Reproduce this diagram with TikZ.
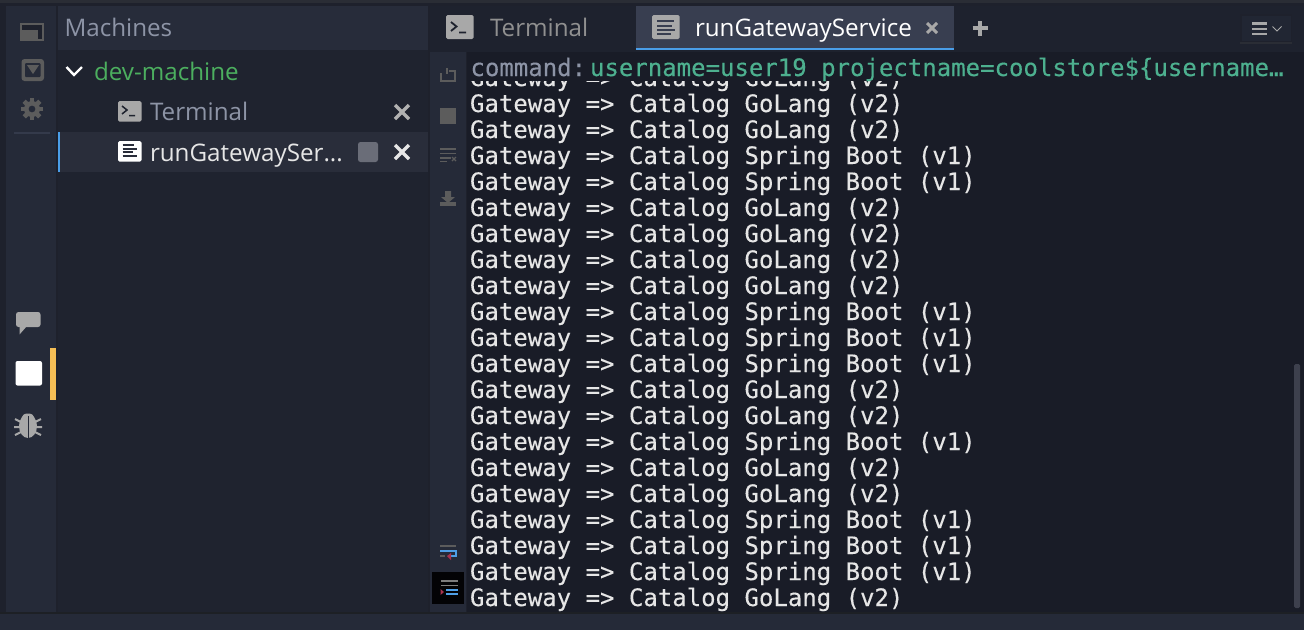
\documentclass[tikz,border=0pt]{standalone}
\usepackage{fontspec}
\setmainfont{Open Sans}
\newfontfamily\monof[FakeBold=0.25]{DejaVu Sans Mono}
\definecolor{cTop}{HTML}{2A2D35}
\definecolor{cStrip}{HTML}{1E212C}
\definecolor{cBar}{HTML}{252A38}
\definecolor{cPanel}{HTML}{1F232F}
\definecolor{cHead}{HTML}{272C3A}
\definecolor{cSel}{HTML}{292D3A}
\definecolor{cTabs}{HTML}{1E222E}
\definecolor{cTab}{HTML}{383E50}
\definecolor{cBlue}{HTML}{4A9EE8}
\definecolor{cOut}{HTML}{191C27}
\definecolor{cLine}{HTML}{E6E6E6}
\definecolor{cMuted}{HTML}{8D94A6}
\definecolor{cGreen}{HTML}{4CAF5F}
\definecolor{cTeal}{HTML}{4DB08F}
\definecolor{cIcon}{HTML}{A8A8A8}
\definecolor{cDim}{HTML}{5C5C5C}
\definecolor{cYellow}{HTML}{F5BE55}
\definecolor{cRed}{HTML}{A8324E}
\definecolor{cIconBlue}{HTML}{4F9FE6}
\definecolor{cStop}{HTML}{6A6D78}
\definecolor{cThumb}{HTML}{3D404D}
\definecolor{cRule}{HTML}{343A4B}
\definecolor{cBtn}{HTML}{212633}
\definecolor{cTabMuted}{HTML}{909090}
\tikzset{
 txt/.style={anchor=base west,inner sep=0pt,outer sep=0pt},
 uitext/.style={txt,font=\fontsize{24.2}{30}\selectfont},
 logline/.style={txt,text=cLine,font=\monof\fontsize{24}{26}\selectfont},
 xmark/.style={line width=3.4pt}
}
\newcommand{\gw}[2]{\node[logline] (l#1) at (470,#1) {Gateway => Catalog #2};}
\newcommand{\gv}[1]{\gw{#1}{GoLang (v2)}}
\newcommand{\gs}[1]{\gw{#1}{Spring Boot (v1)}}
\begin{document}
\begin{tikzpicture}[x=1pt,y=-1pt]
\useasboundingbox (0,0) rectangle (1304,630);
% backgrounds
\fill[cStrip] (0,0) rectangle (1304,630);
\fill[cTop] (0,0) rectangle (1304,3);
\fill[cBar] (6,6) rectangle (56,612);
\fill[cPanel] (58,6) rectangle (428,612);
\fill[cHead] (58,6) rectangle (428,50);
\fill[cSel] (58,132) rectangle (428,172);
\fill[cBlue] (58,132) rectangle (60,172);
\fill[cTabs] (430,6) rectangle (1304,52);
\fill[cTab] (636,6) rectangle (954,48);
\fill[cBlue] (636,48) rectangle (954,50);
\fill[cBar] (430,52) rectangle (466,612);
\fill[cOut] (467,52) rectangle (1304,612);
\fill[cBar] (0,614) rectangle (1304,630);
\fill[cTop!70!black] (0,612) rectangle (1304,614);
% left icons
\fill[cDim] (20,23) rectangle (44,41);
\fill[cStrip] (22,25) rectangle (42,30);
\fill[cStrip] (38,30) rectangle (42,39);
\fill[cDim,rounded corners=3pt] (21.5,59) rectangle (44,81);
\fill[cBar,rounded corners=1pt] (25,63) rectangle (40.5,77);
\fill[cDim] (27,65) -- (39,65) -- (33,74) -- cycle;
\fill[cDim,even odd rule] (32,109) circle (8pt) (32,109) circle (3.5pt);
\foreach \a in {0,45,...,315}{\fill[cDim,rotate around={\a:(32,109)}] (29.7,98) rectangle (34.3,103);}
\fill[cRule] (14,132) rectangle (50,134);
\fill[cIcon,rounded corners=2.5pt] (16,312) rectangle (40.5,327);
\fill[cIcon] (19.5,326) -- (27,326) -- (19.5,334.5) -- cycle;
\fill[white,rounded corners=2pt] (15.5,361) rectangle (42,385.5);
\fill[cYellow] (50,348) rectangle (56,400);
% bug
\fill[cIcon] (28,417) ellipse (6pt and 3.5pt);
\fill[cIcon] (28,426) ellipse (9pt and 12pt);
\draw[cBar,line width=1pt] (28,416) -- (28,438);
\draw[cIcon,line width=2pt] (15,419) -- (21,422) (41,419) -- (35,422) (14,427) -- (20,427) (42,427) -- (36,427) (15,435) -- (21,432) (41,435) -- (35,432);
% side panel texts
\node[uitext,text=cMuted] (machines) at (64.5,36) {Machines};
\draw[white,line width=2.4pt] (66.5,67) -- (74,75) -- (82,67);
\node[uitext,text=cGreen] (dev) at (94,80) {dev-machine};
\fill[cIcon,rounded corners=1.5pt] (118,101) rectangle (141.5,121.5);
\draw[cPanel,line width=1.5pt] (122,106) -- (127,110) -- (122,114) (129,115.5) -- (135,115.5);
\node[uitext,text=cMuted] (term) at (150,120) {Terminal};
\draw[cIcon!90!white,xmark] (395,105) -- (409,119) (409,105) -- (395,119);
\fill[white,rounded corners=1.5pt] (118,141) rectangle (141.5,161.5);
\foreach \y/\w in {145/134,148.5/137,152/133,155.5/137}{\draw[cSel,line width=2pt] (122.5,\y) -- (\w,\y);}
\node[uitext,text=cLine] (rgs) at (150,161) {runGatewaySer...};
\fill[cStop,rounded corners=2.5pt] (358,142) rectangle (378,162);
\draw[cLine,xmark] (395,145) -- (409,159) (409,145) -- (395,159);
% tabs
\fill[cIcon,rounded corners=1.5pt] (446,15) rectangle (473.5,39);
\draw[cTabs,line width=1.8pt] (451,22) -- (456.5,26.5) -- (451,31) (459,32.5) -- (466,32.5);
\node[uitext,text=cTabMuted] (tabt) at (490,36) {Terminal};
\fill[cIcon,rounded corners=1.5pt] (652,15) rectangle (679.5,39);
\foreach \y/\w in {21/674,25.5/672,30/675,34/671}{\draw[cTab,line width=2pt] (657,\y) -- (\w,\y);}
\node[uitext,text=white] (tabr) at (695,36) {runGatewayService};
\draw[cIcon,line width=3pt] (927,23) -- (937,33) (937,23) -- (927,33);
\draw[cIcon,line width=4pt] (980,21) -- (980,36) (972.5,28) -- (987.5,28);
% menu button
\fill[cStrip] (1240,14) rectangle (1292,44);
\fill[cBtn] (1241.5,16) rectangle (1290.5,41);
\fill[cTop] (1240,41.5) rectangle (1292,44);
\draw[cIcon,line width=2.2pt] (1252,23.5) -- (1267,23.5) (1252,29) -- (1267,29) (1252,34) -- (1267,34);
\draw[cIcon,line width=.9pt] (1272.5,26.5) -- (1277,31) -- (1281.5,26.5);
% toolbar icons
\draw[cDim,line width=1.6pt] (441,73) -- (441,81) -- (455,81) -- (455,71) -- (449,71) (447,68) -- (447,74);
\fill[cDim] (440,108) rectangle (456,124);
\draw[cDim,line width=1.5pt] (440,149) -- (456,149) (440,153.5) -- (456,153.5) (440,158) -- (451,158) (440,161.5) -- (447,161.5);
\draw[cDim,line width=1.1pt] (452,157) -- (456,161) (456,157) -- (452,161);
\fill[cDim] (445,191) rectangle (451,197) (441,197) -- (455,197) -- (448,203) -- cycle;
\fill[cDim] (440,202) rectangle (456,206);
\draw[cDim,line width=1.6pt] (440,546) -- (456,546);
\draw[cIconBlue,line width=1.6pt] (440,551) -- (456,551) -- (456,556) -- (450,556);
\fill[cRed] (447,556) -- (451,553) -- (451,560) -- cycle;
\draw[cDim,line width=1.6pt] (440,556) -- (445,556);
\fill[black!92!cBar] (432,572) rectangle (464,604);
\draw[cDim!80!white,line width=1.6pt] (441,581) -- (458,581) (441,585.5) -- (458,585.5);
\draw[cIconBlue,line width=1.8pt] (446,590) -- (458,590) (446,594) -- (458,594);
\fill[cRed] (444,592) -- (440.5,589) -- (440.5,595) -- cycle;
% output
\begin{scope}
\clip (467,81) rectangle (1304,612);
\gv{86}\gv{112}\gv{138}
\gs{164}\gs{190}
\gv{216}\gv{242}\gv{268}\gv{294}
\gs{320}\gs{346}\gs{372}
\gv{398}\gv{424}
\gs{450}
\gv{476}\gv{502}
\gs{528}\gs{554}\gs{580}
\gv{606}
\end{scope}
% command line
\fill[cOut] (467,52) rectangle (1304,80);
\node[txt,text=cMuted,font=\monof\fontsize{24}{26}\selectfont] (cmd) at (470.5,76) {command:};
\node[txt,text=cTeal,font=\monof\fontsize{24}{26}\selectfont] (val) at (590,76) {username=user19 projectname=coolstore\$\{username\char"2026};
% scrollbar
\fill[cThumb,rounded corners=1.5pt] (1294,364) rectangle (1300,608);
\end{tikzpicture}
\end{document}
